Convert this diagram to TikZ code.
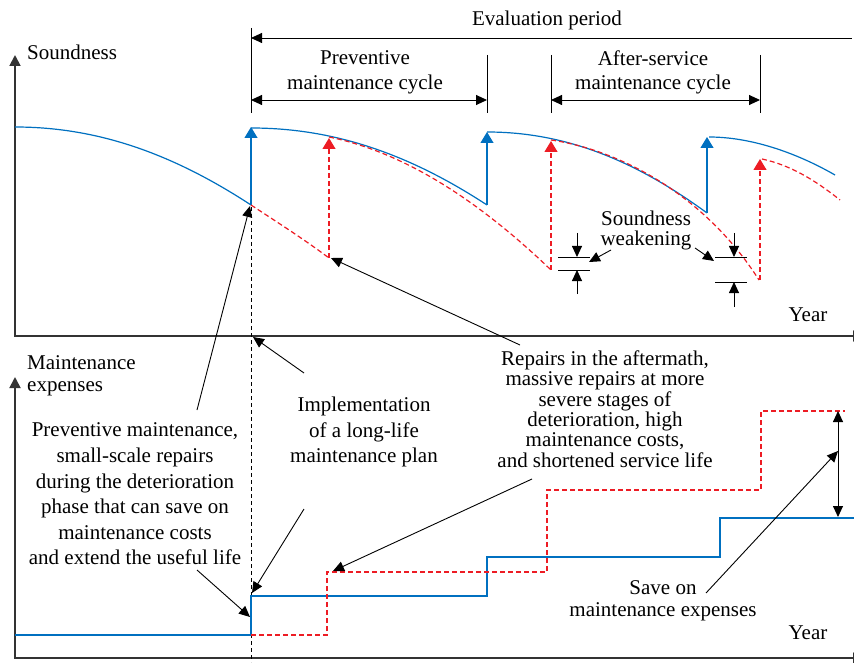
\documentclass[tikz,border=0pt]{standalone}
\usepackage{fontspec}
\setmainfont{Liberation Serif}
\usetikzlibrary{arrows.meta}
\definecolor{cblue}{RGB}{0,112,192}
\definecolor{cred}{RGB}{237,28,36}
\definecolor{axisc}{RGB}{51,51,51}
\begin{document}
\begin{tikzpicture}[x=1pt,y=-1pt,
  axis/.style={draw=axisc, line width=1.8pt},
  axtip/.style={{Triangle[length=11pt,width=11pt]}-{Triangle[length=11pt,width=11pt]}},
  bl/.style={cblue, line width=1.2pt},
  rd/.style={cred, line width=1.2pt, dash pattern=on 5pt off 3pt},
  ctip/.style={-{Triangle[length=11pt,width=13pt]}},
  barr/.style={black, line width=0.9pt, -{Triangle[length=11pt,width=10pt]}},
  tick/.style={black, line width=0.9pt},
  dimarr/.style={black, line width=0.9pt, {Triangle[length=11pt,width=10pt]}-{Triangle[length=11pt,width=10pt]}},
  txt/.style={inner sep=0, align=center, font=\fontsize{21pt}{25.6pt}\selectfont},
]
\useasboundingbox (0,0) rectangle (854,663);
\clip (0,0) rectangle (854,663);

% ---------- coordinates ----------
\coordinate (o1) at (15,336);
\coordinate (y1) at (15,55);
\coordinate (x1) at (864,336);
\coordinate (o2) at (15,658);
\coordinate (y2) at (15,377);
\coordinate (x2) at (864,658);

% ---------- axes ----------
\draw[axis, axtip] (y1) -- (o1) -- (x1);
\draw[axis, axtip] (y2) -- (o2) -- (x2);

% ---------- texts ----------
\node[txt] (ev) at (547,20) {Evaluation period};
\node[txt, font=\fontsize{21pt}{25pt}\selectfont] (pmc) at (365,72) {Preventive\\maintenance cycle};
\node[txt, font=\fontsize{21pt}{24pt}\selectfont] (asc) at (653,72) {After-service\\maintenance cycle};
\node[txt, anchor=west] (sd) at (27,52) {Soundness};
\node[txt, anchor=west, align=left, font=\fontsize{21pt}{22pt}\selectfont] (me) at (27,376) {Maintenance\\expenses};
\node[txt, font=\fontsize{21pt}{20pt}\selectfont] (sw) at (646,230) {Soundness\\weakening};
\node[txt] (yr1) at (808,315) {Year};
\node[txt] (yr2) at (808,633) {Year};
\node[txt] (pm) at (135,494) {Preventive maintenance,\\small-scale repairs\\during the deterioration\\phase that can save on\\maintenance costs\\and extend the useful life};
\node[txt, font=\fontsize{21pt}{25.5pt}\selectfont] (impl) at (364,432) {Implementation\\of a long-life\\maintenance plan};
\node[txt, font=\fontsize{21pt}{20.4pt}\selectfont] (rep) at (605,409) {Repairs in the aftermath,\\massive repairs at more\\severe stages of\\deterioration, high\\maintenance costs,\\and shortened service life};
\node[txt, font=\fontsize{21pt}{22pt}\selectfont] (save) at (663,601) {Save on\\maintenance expenses};

% ---------- period dimension lines ----------
\draw[tick] (251,28) -- (251,113);
\draw[tick, {Triangle[length=11pt,width=10pt]}-] (251,38) -- (852,38);
\draw[tick] (487,55) -- (487,113);
\draw[dimarr] (251,100) -- (487,100);
\draw[tick] (551,55) -- (551,113);
\draw[tick] (760,55) -- (760,113);
\draw[dimarr] (551,100) -- (760,100);

% ---------- vertical dashed line ----------
\draw[black, line width=0.9pt, dash pattern=on 4pt off 3pt] (251,207) -- (251,662);

% ---------- soundness curves ----------
\draw[bl] (15,127) .. controls (95,127) and (170,152) .. (251,205);
\draw[bl, ctip] (251,205) -- (251,127);
\draw[bl] (251,128) .. controls (331,128) and (406,152) .. (487,205);
\draw[bl, ctip] (487,205) -- (487,132);
\draw[bl] (487,132) .. controls (562,132) and (632,158) .. (707,213);
\draw[bl, ctip] (707,213) -- (707,137);
\draw[bl] (709,137) .. controls (750,137) and (795,152) .. (835,175);

\draw[rd] (251,205) .. controls (280,224) and (305,240) .. (329,258);
\draw[rd, ctip] (329,258) -- (329,138);
\draw[rd] (329,137) .. controls (403,152) and (477,199) .. (551,270);
\draw[rd, ctip] (551,270) -- (551,141);
\draw[rd] (551,140) .. controls (620,150) and (705,195) .. (759,280);
\draw[rd, ctip] (760,280) -- (760,159);
\draw[rd] (762,159) .. controls (790,165) and (815,180) .. (840,200);

% ---------- soundness weakening markers ----------
\draw[tick] (558,257) -- (590,257);
\draw[tick] (558,270) -- (590,270);
\draw[barr] (577,233) -- (577,257);
\draw[barr] (577,294) -- (577,270);
\draw[tick] (715,257) -- (747,257);
\draw[tick] (715,282) -- (747,282);
\draw[barr] (734,233) -- (734,257);
\draw[barr] (734,307) -- (734,282);
\coordinate (swl) at (611,250);
\coordinate (swr) at (695,248);
\draw[barr] (swl) -- (589,262);
\draw[barr] (swr) -- (714,261);

% ---------- expenses steps ----------
\draw[bl] (15,635) -- (251,635) -- (251,596) -- (487,596) -- (487,557) -- (720,557) -- (720,518) -- (854,518);
\draw[rd] (251,635) -- (327,635) -- (327,572) -- (547,572) -- (547,490) -- (761,490) -- (761,411) -- (845,411);
\draw[dimarr] (838,411) -- (838,517);

% ---------- annotation arrows ----------
\draw[barr] (197,410) -- (250,206);
\draw[barr] (197,570) -- (250,617);
\draw[barr] (304,373) -- (253,337);
\draw[barr] (304,509) -- (252,593);
\draw[barr] (520,345) -- (331,258);
\draw[barr] (532,479) -- (333,571);
\draw[barr] (706,593) -- (838,451);
\end{tikzpicture}
\end{document}
